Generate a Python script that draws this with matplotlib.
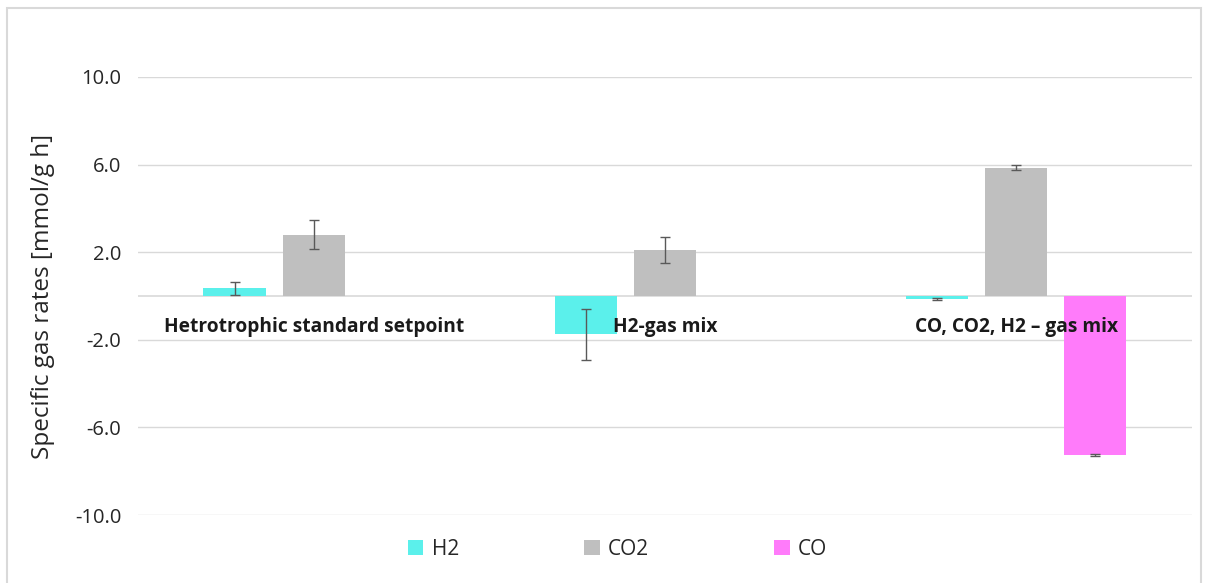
import matplotlib
matplotlib.use('Agg')
import matplotlib.pyplot as plt
import numpy as np
from matplotlib.patches import Rectangle

plt.rcParams['font.family'] = ['Open Sans', 'DejaVu Sans']

categories = ['Hetrotrophic standard setpoint', 'H2-gas mix', 'CO, CO2, H2 – gas mix']
series = ['H2', 'CO2', 'CO']
h2_rates = [0.35, -1.75, -0.15]
h2_err = [0.30, 1.15, 0.05]
co2_rates = [2.8, 2.1, 5.85]
co2_err = [0.65, 0.60, 0.12]
co_rates = [np.nan, np.nan, -7.25]
co_err = [np.nan, np.nan, 0.05]
yticks = [-10, -6, -2, 2, 6, 10]

colors = ['#5BF0EB', '#BFBFBF', '#FF7BFA']
values = [h2_rates, co2_rates, co_rates]
errors = [h2_err, co2_err, co_err]

fig = plt.figure(figsize=(12.06, 5.83), dpi=100)
ax = fig.add_axes([0.1144, 0.1166, 0.874, 0.7514])

x = np.arange(len(categories))
slot = 0.225
width = 0.177
handles = []
for k, (name, vals, errs, col) in enumerate(zip(series, values, errors, colors)):
    pos = x + (k - 1) * slot
    b = ax.bar(pos, vals, width, color=col, label=name, zorder=2)
    ax.errorbar(pos, vals, yerr=errs, fmt='none', ecolor='#595959',
                elinewidth=1, capsize=3.5, capthick=1, zorder=3)
    handles.append(b)

ax.set_xlim(-0.5, 2.5)
ax.set_ylim(-10, 10)
ax.set_yticks(yticks)
ax.set_yticklabels([f'{v:.1f}' for v in yticks])
ax.grid(axis='y', color='#D9D9D9', lw=1, zorder=0)
ax.axhline(0, color='#D9D9D9', lw=1.2, zorder=1)
ax.set_xticks([])
for s in ax.spines.values():
    s.set_visible(False)
ax.tick_params(axis='y', length=0, pad=12, labelsize=14.5, labelcolor='#262626')

# category names sit just under the zero line, drawn over the bars
for xi, cat in zip(x, categories):
    ax.annotate(cat, (xi, 0), xytext=(0, -22), textcoords='offset points',
                ha='center', va='center', fontsize=13.8, fontweight='bold',
                color='#1a1a1a', zorder=5)

ax.set_ylabel('Specific gas rates [mmol/g h]', fontsize=17.5, color='#262626',
              labelpad=14)

fig.legend(handles=handles, labels=series, loc='center', ncol=3,
           bbox_to_anchor=(0.512, 0.058), frameon=False, fontsize=15,
           handlelength=0.75, handleheight=0.75, handletextpad=0.4,
           columnspacing=6.0, labelcolor='#262626')

fig.patches.append(Rectangle((0.006, -0.01), 0.99, 0.996, transform=fig.transFigure,
                             fill=False, edgecolor='#D9D9D9', lw=1.5))

fig.savefig('out.png', dpi=100)
